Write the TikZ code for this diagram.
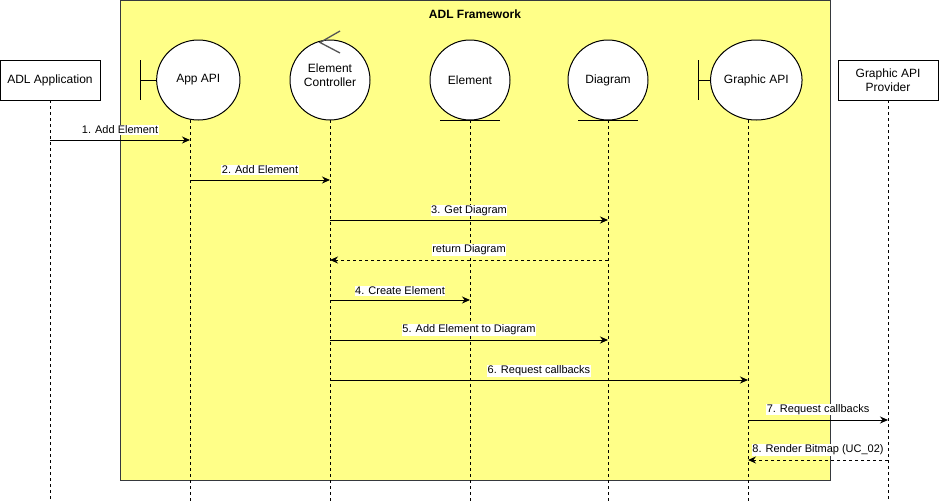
\documentclass[tikz,border=0pt]{standalone}
\usepackage{fontspec}
\setmainfont{Liberation Sans}
\usetikzlibrary{arrows.meta,shapes.geometric}
\definecolor{fwfill}{HTML}{FFFF88}
\definecolor{fwline}{HTML}{36393D}
\definecolor{ctrlgray}{HTML}{555555}
\begin{document}
\begin{tikzpicture}[x=1pt,y=-1pt,line width=1pt,
  txt/.style={font=\fontsize{12}{14.4}\selectfont,align=center},
  lbl/.style={font=\fontsize{11}{13}\selectfont,fill=white,inner sep=0.6pt},
  actorbox/.style={draw,fill=white,minimum width=100,minimum height=40,inner sep=0,txt},
  objcircle/.style={ellipse,draw,fill=white,minimum width=80,minimum height=80,inner sep=0,txt},
  lifeline/.style={dash pattern=on 3pt off 3pt},
  msg/.style={-{Stealth[length=8pt,width=7pt,inset=2.6pt]}},
  reply/.style={msg,dash pattern=on 3pt off 3pt}]
\useasboundingbox (0,0) rectangle (939,501);
% framework frame
\node[draw=fwline,fill=fwfill,minimum width=710,minimum height=480,inner sep=0,anchor=north west] (frame) at (120,0) {};
\node[font=\bfseries\fontsize{12}{14.4}\selectfont] (title) at (475,14) {ADL Framework};
% lifeline end points
\coordinate (t1) at (50,100);  \coordinate (b1) at (50,501);
\coordinate (t2) at (190,120); \coordinate (b2) at (190,501);
\coordinate (t3) at (330,120); \coordinate (b3) at (330,501);
\coordinate (t4) at (470,120); \coordinate (b4) at (470,501);
\coordinate (t5) at (608,120); \coordinate (b5) at (608,501);
\coordinate (t6) at (748,120); \coordinate (b6) at (748,501);
\coordinate (t7) at (888,100); \coordinate (b7) at (888,501);
\foreach \i in {1,...,7} { \draw[lifeline] (t\i) -- (b\i); }
% participants
\node[actorbox] (app) at (50,80) {ADL Application};
\node[actorbox] (prov) at (888,80) {Graphic API\\Provider};
\node[objcircle,minimum width=83.3] (appapi) at (198.3,80) {App API};
\coordinate (appbar) at (140,80);
\draw (140,60) -- (140,100);
\draw (appbar) -- (appapi.west);
\node[objcircle] (ctrl) at (330,80) {};
\node[txt] (ctrltxt) at (330,75) {Element\\Controller};
\draw[ctrlgray,line width=1.3pt] (340,31) -- (320,42.5) -- (340,53);
\node[objcircle] (elem) at (470,80) {Element};
\draw (440,120) -- (500,120);
\node[objcircle] (diag) at (608,80) {Diagram};
\draw (578,120) -- (638,120);
\node[objcircle,minimum width=83.3] (gapi) at (756.3,80) {Graphic API};
\coordinate (gbar) at (698,80);
\draw (698,60) -- (698,100);
\draw (gbar) -- (gapi.west);
% messages
\draw[msg] (t1 |- 0,140) -- node[lbl,yshift=10pt] {1. Add Element} (t2 |- 0,140);
\draw[msg] (t2 |- 0,180) -- node[lbl,yshift=10pt] {2. Add Element} (t3 |- 0,180);
\draw[msg] (t3 |- 0,220) -- node[lbl,yshift=9.5pt] {3. Get Diagram} (t5 |- 0,220);
\draw[reply] (t5 |- 0,260) -- node[lbl,yshift=10pt] {return Diagram} (t3 |- 0,260);
\draw[msg] (t3 |- 0,300) -- node[lbl,yshift=9pt] {4. Create Element} (t4 |- 0,300);
\draw[msg] (t3 |- 0,340) -- node[lbl,yshift=10pt] {5. Add Element to Diagram} (t5 |- 0,340);
\draw[msg] (t3 |- 0,380) -- node[lbl,yshift=9pt] {6. Request callbacks} (t6 |- 0,380);
\draw[msg] (t6 |- 0,420) -- node[lbl,yshift=10.5pt] {7. Request callbacks} (t7 |- 0,420);
\draw[reply] (t7 |- 0,460) -- node[lbl,yshift=10pt] {8. Render Bitmap (UC\_02)} (t6 |- 0,460);
\end{tikzpicture}
\end{document}
